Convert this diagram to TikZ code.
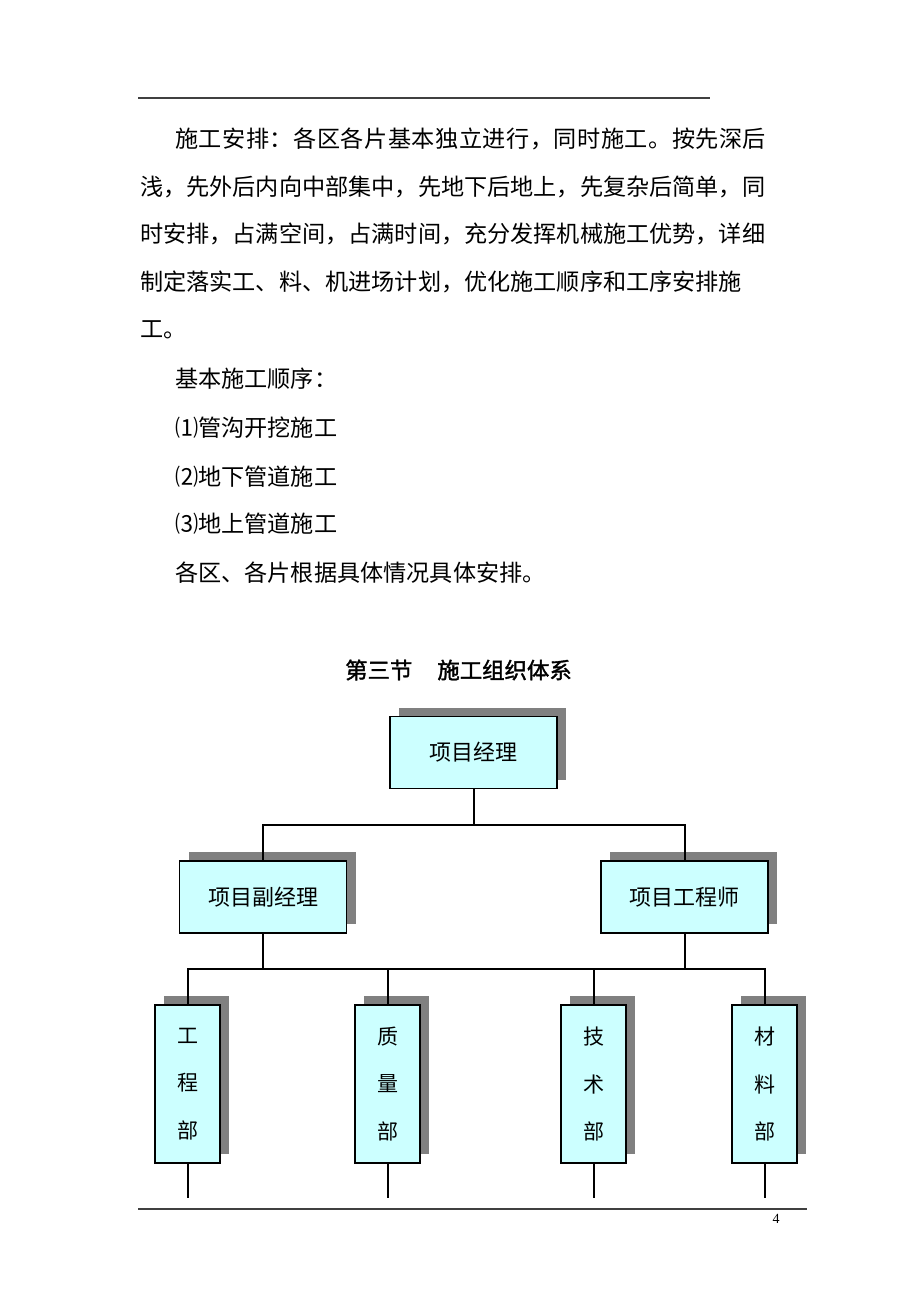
\documentclass[tikz,border=0pt]{standalone}
\usepackage{fontspec}
\setmainfont{Liberation Serif}
\newfontfamily\cjk{Noto Sans CJK SC}
\newfontfamily\cjkwide[LetterSpace=2.2]{Noto Sans CJK SC}
\newfontfamily\cjkb[FakeBold=1.6]{Noto Sans CJK SC}
\usetikzlibrary{shadows}
\definecolor{boxfill}{RGB}{204,255,255}
\definecolor{shadowgray}{RGB}{128,128,128}
\tikzset{
  txt/.style={anchor=west,inner sep=0pt,font=\cjk\fontsize{23.15}{23.15}\selectfont},
  orgbox/.style={draw=black,fill=boxfill,line width=1.3pt,inner sep=0pt,
    drop shadow={shadow xshift=9pt,shadow yshift=9pt,fill=shadowgray,opacity=1},
    font=\cjk\fontsize{22}{22}\selectfont},
  widebox/.style={orgbox,minimum width=167pt,minimum height=72pt},
  tallbox/.style={orgbox,minimum width=65pt,minimum height=158pt,align=center,
    font=\cjk\fontsize{21}{47.5}\selectfont},
  conn/.style={line width=2pt,black},
  rule/.style={line width=1.6pt,black!75}
}
\begin{document}
\begin{tikzpicture}[x=1pt,y=-1pt]
\useasboundingbox[fill=white] (0,0) rectangle (920,1302);
% rules
\coordinate (r1a) at (138,98); \coordinate (r1b) at (710,98);
\draw[rule] (r1a) -- (r1b);
\coordinate (r2a) at (138,1209); \coordinate (r2b) at (807,1209);
\draw[rule] (r2a) -- (r2b);
\node[font=\fontsize{14}{14}\selectfont,inner sep=0pt] (pg) at (776,1219) {4};
% body text
\node[txt,font=\cjkwide\fontsize{23.15}{23.15}\selectfont] (t1) at (175,139) {施工安排：各区各片基本独立进行，同时施工。按先深后};
\node[txt] (t2) at (140,187) {浅，先外后内向中部集中，先地下后地上，先复杂后简单，同};
\node[txt] (t3) at (140,234) {时安排，占满空间，占满时间，充分发挥机械施工优势，详细};
\node[txt] (t4) at (140,282) {制定落实工、料、机进场计划，优化施工顺序和工序安排施};
\node[txt] (t5) at (140,330) {工。};
\node[txt] (t6) at (175,379) {基本施工顺序：};
\node[txt] (t7) at (175,428) {⑴管沟开挖施工};
\node[txt] (t8) at (175,477) {⑵地下管道施工};
\node[txt] (t9) at (175,524) {⑶地上管道施工};
\node[txt] (t10) at (175,573) {各区、各片根据具体情况具体安排。};
% heading
\node[anchor=west,inner sep=0pt,font=\cjkb\fontsize{22.4}{22.4}\selectfont] (hd) at (345,670) {第三节\hspace{25pt}施工组织体系};
% org chart
\node[widebox] (pm) at (473.5,752.5) {项目经理};
\node[widebox] (dpm) at (263,897) {项目副经理};
\node[widebox] (eng) at (684.5,897) {项目工程师};
\node[tallbox] (d1) at (187.5,1084) {工\\程\\部};
\node[tallbox] (d2) at (387.5,1084) {质\\量\\部};
\node[tallbox] (d3) at (593.5,1084) {技\\术\\部};
\node[tallbox] (d4) at (764.5,1084) {材\\料\\部};
\coordinate (bus1) at (pm.south |- 0,825);
\coordinate (bus2) at (dpm.south |- 0,969);
\draw[conn] (pm.south) -- (bus1);
\draw[conn] (dpm.north) |- (bus1) -| (eng.north);
\draw[conn] (dpm.south) -- (bus2);
\draw[conn] (eng.south) -- (eng.south |- bus2);
\draw[conn] (d1.north) |- (bus2);
\draw[conn] (d4.north) |- (bus2);
\draw[conn] (d2.north) -- (d2.north |- bus2);
\draw[conn] (d3.north) -- (d3.north |- bus2);
\coordinate (e1) at (d1.south |- 0,1198);
\coordinate (e2) at (d2.south |- 0,1198);
\coordinate (e3) at (d3.south |- 0,1198);
\coordinate (e4) at (d4.south |- 0,1198);
\draw[conn] (d1.south) -- (e1);
\draw[conn] (d2.south) -- (e2);
\draw[conn] (d3.south) -- (e3);
\draw[conn] (d4.south) -- (e4);
\end{tikzpicture}
\end{document}
